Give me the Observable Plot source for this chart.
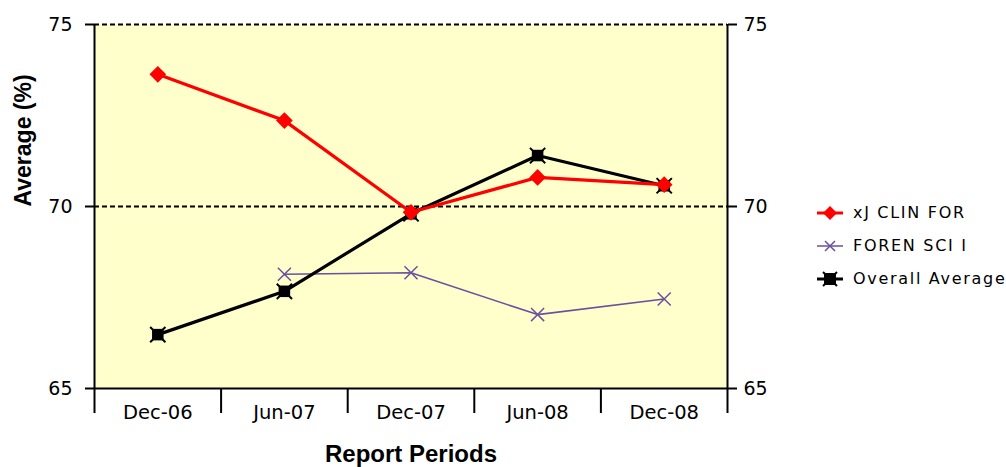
<!DOCTYPE html>
<html><head><meta charset="utf-8">
<script src="https://cdn.jsdelivr.net/npm/d3@7"></script>
<script src="https://cdn.jsdelivr.net/npm/@observablehq/plot@0.6"></script>
<style>
body{margin:0;background:#fff;}
#wrap{position:relative;width:1006px;height:467px;}
#legend{position:absolute;left:815px;top:196px;font-family:"DejaVu Sans";font-size:16px;letter-spacing:1.7px;color:#000;white-space:nowrap;}
.item{display:flex;align-items:center;height:33px;}
.item svg{margin-right:8px;flex:none;}
</style></head><body><div id="wrap"></div>
<script>
const periods = ["Dec-06","Jun-07","Dec-07","Jun-08","Dec-08"];
const clinFor = [73.63,72.36,69.84,70.80,70.60];
const forenSci = [null,68.14,68.18,67.03,67.46];
const overall = [66.48,67.67,69.80,71.40,70.57];
const yTicks = [65,70,75];
const gridValues = [70,75];
const seriesNames = ["xJ CLIN FOR","FOREN SCI I","Overall Average"];
const seriesColors = ["#FF0000","#6B4FA0","#000000"];

const rows = (vals, s) => vals.map((v,i)=>({i, v, s})).filter(d=>d.v!=null);
const clinRows = rows(clinFor, seriesNames[0]);
const forenRows = rows(forenSci, seriesNames[1]);
const overallRows = rows(overall, seriesNames[2]);
const idx = d3.range(periods.length);
const bounds = d3.range(periods.length+1).map(i=>i-0.5);

const chart = Plot.plot({
  width:1006, height:467,
  marginLeft:94, marginRight:279, marginTop:24, marginBottom:79,
  style:{fontFamily:"DejaVu Sans", fontSize:"19px", color:"#000", background:"transparent"},
  x:{type:"linear", domain:[-0.5, periods.length-0.5], axis:null},
  y:{domain:[65,75], axis:null},
  marks:[
    Plot.frame({fill:"#FFFFCC", stroke:"none"}),
    Plot.ruleY(gridValues, {stroke:"#000", strokeDasharray:"5,3", strokeWidth:2}),
    Plot.ruleY([65], {stroke:"#000", strokeWidth:2}),
    Plot.ruleX([bounds[0], bounds[bounds.length-1]], {stroke:"#000", strokeWidth:2}),
    Plot.axisY(yTicks, {anchor:"left", tickSize:9, tickPadding:13, label:null, fontSize:19, strokeWidth:2}),
    Plot.axisY(yTicks, {anchor:"right", tickSize:9, tickPadding:7, label:null, fontSize:19, strokeWidth:2}),
    Plot.axisX(bounds, {anchor:"bottom", tickSize:25, tickFormat:()=>"", label:null, strokeWidth:2}),
    Plot.axisX(idx, {anchor:"bottom", tickSize:0, tickPadding:17, tickFormat:i=>periods[i], label:null, fontSize:19.5}),
    Plot.line(forenRows, {x:"i", y:"v", stroke:seriesColors[1], strokeWidth:1.6}),
    Plot.dot(forenRows, {x:"i", y:"v", symbol:"times", r:6, stroke:seriesColors[1], strokeWidth:1.5}),
    Plot.line(overallRows, {x:"i", y:"v", stroke:seriesColors[2], strokeWidth:3.2}),
    Plot.dot(overallRows, {x:"i", y:"v", symbol:"square", r:6.5, fill:seriesColors[2], stroke:"none"}),
    Plot.dot(overallRows, {x:"i", y:"v", symbol:"times", r:7, stroke:seriesColors[2], strokeWidth:2}),
    Plot.line(clinRows, {x:"i", y:"v", stroke:seriesColors[0], strokeWidth:3.2}),
    Plot.dot(clinRows, {x:"i", y:"v", symbol:"diamond2", r:7.5, fill:seriesColors[0], stroke:"none"}),
    Plot.text(["Average (%)"], {text:d=>d, frameAnchor:"left", rotate:-90, dx:-71, fontWeight:"bold", fontSize:23, fontFamily:"Liberation Sans"}),
    Plot.text(["Report Periods"], {text:d=>d, frameAnchor:"bottom", lineAnchor:"middle", dy:66, fontWeight:"bold", fontSize:24, fontFamily:"Liberation Sans"})
  ]
});
const wrap = document.getElementById("wrap");
wrap.appendChild(chart);

const legend = document.createElement("div");
legend.id = "legend";
const markerSvg = [
  `<svg width="30" height="16"><line x1="2" x2="28" y1="8" y2="8" stroke="${seriesColors[0]}" stroke-width="3"/><path d="M15 1 L22 8 L15 15 L8 8 Z" fill="${seriesColors[0]}"/></svg>`,
  `<svg width="30" height="16"><line x1="2" x2="28" y1="8" y2="8" stroke="${seriesColors[1]}" stroke-width="1.5"/><path d="M10 3 L20 13 M20 3 L10 13" stroke="${seriesColors[1]}" stroke-width="1.5"/></svg>`,
  `<svg width="30" height="16"><line x1="2" x2="28" y1="8" y2="8" stroke="${seriesColors[2]}" stroke-width="3"/><rect x="9" y="2" width="12" height="12" fill="${seriesColors[2]}"/><path d="M8 1 L22 15 M22 1 L8 15" stroke="${seriesColors[2]}" stroke-width="2"/></svg>`
];
seriesNames.forEach((n,k)=>{
  const it = document.createElement("div");
  it.className = "item";
  it.innerHTML = markerSvg[k] + `<span>${n}</span>`;
  legend.appendChild(it);
});
wrap.appendChild(legend);
</script>
</body></html>
